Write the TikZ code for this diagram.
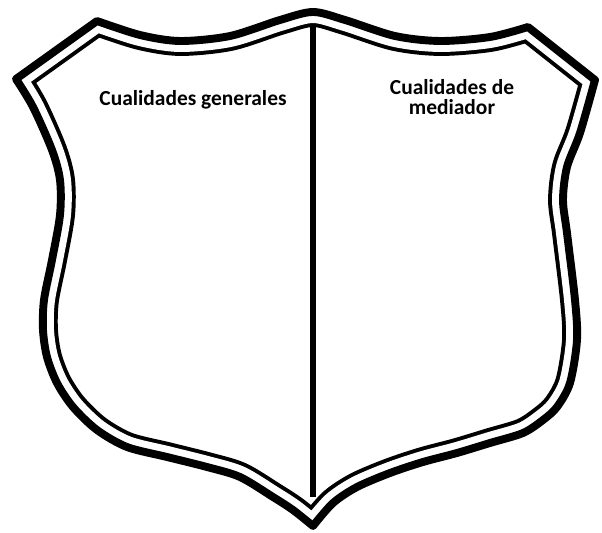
\documentclass[tikz,border=0pt]{standalone}
\usepackage{fontspec}
\setmainfont{Carlito}
\newcommand{\shieldpath}{(16,-79) -- (97,-21) -- plot[smooth] coordinates {(97,-21) (140,-35) (180,-41) (230,-36) (280,-20) (313,-12) (345,-20) (395,-36) (440,-41) (490,-37) (528,-27)} -- (595,-80) -- plot[smooth] coordinates {(595,-80) (580,-133) (567,-167) (563,-200) (567,-233) (575,-300) (577,-340) (570,-383) (557,-407) (543,-420) (523,-433) (490,-443) (457,-453) (423,-462) (390,-473) (357,-487) (333,-503) (313,-526)} -- plot[smooth] coordinates {(313,-526) (293,-510) (273,-497) (240,-477) (207,-467) (167,-457) (127,-447) (97,-430) (73,-407) (57,-383) (47,-357) (43,-330) (44,-300) (52,-260) (60,-215) (60,-180) (52,-150) (33,-107) (16,-79)} -- cycle}

\begin{document}
\begin{tikzpicture}[x=0.02cm, y=0.02cm]
\tikzstyle{every node}+=[inner sep=0pt]
\tikzstyle{heading}=[font=\bfseries\fontsize{12.2}{11.6}\selectfont, align=center]
\useasboundingbox (0,0) rectangle (602,-533);
\begin{scope}
\clip \shieldpath;
\draw [black, line width=17pt] \shieldpath;
\draw [white, line width=12.5pt] \shieldpath;
\end{scope}
\draw [black, line width=4.5pt, line join=round] \shieldpath;
\coordinate (top) at (313,-25);
\coordinate (tip) at (313,-497);
\draw [black, line width=3.7pt] (top) -- (tip);
\node [heading, anchor=base] (general) at (193,-106) {Cualidades generales};
\node [heading, anchor=north] (mediator) at (452,-79) {Cualidades de\\mediador};
\end{tikzpicture}
\end{document}
